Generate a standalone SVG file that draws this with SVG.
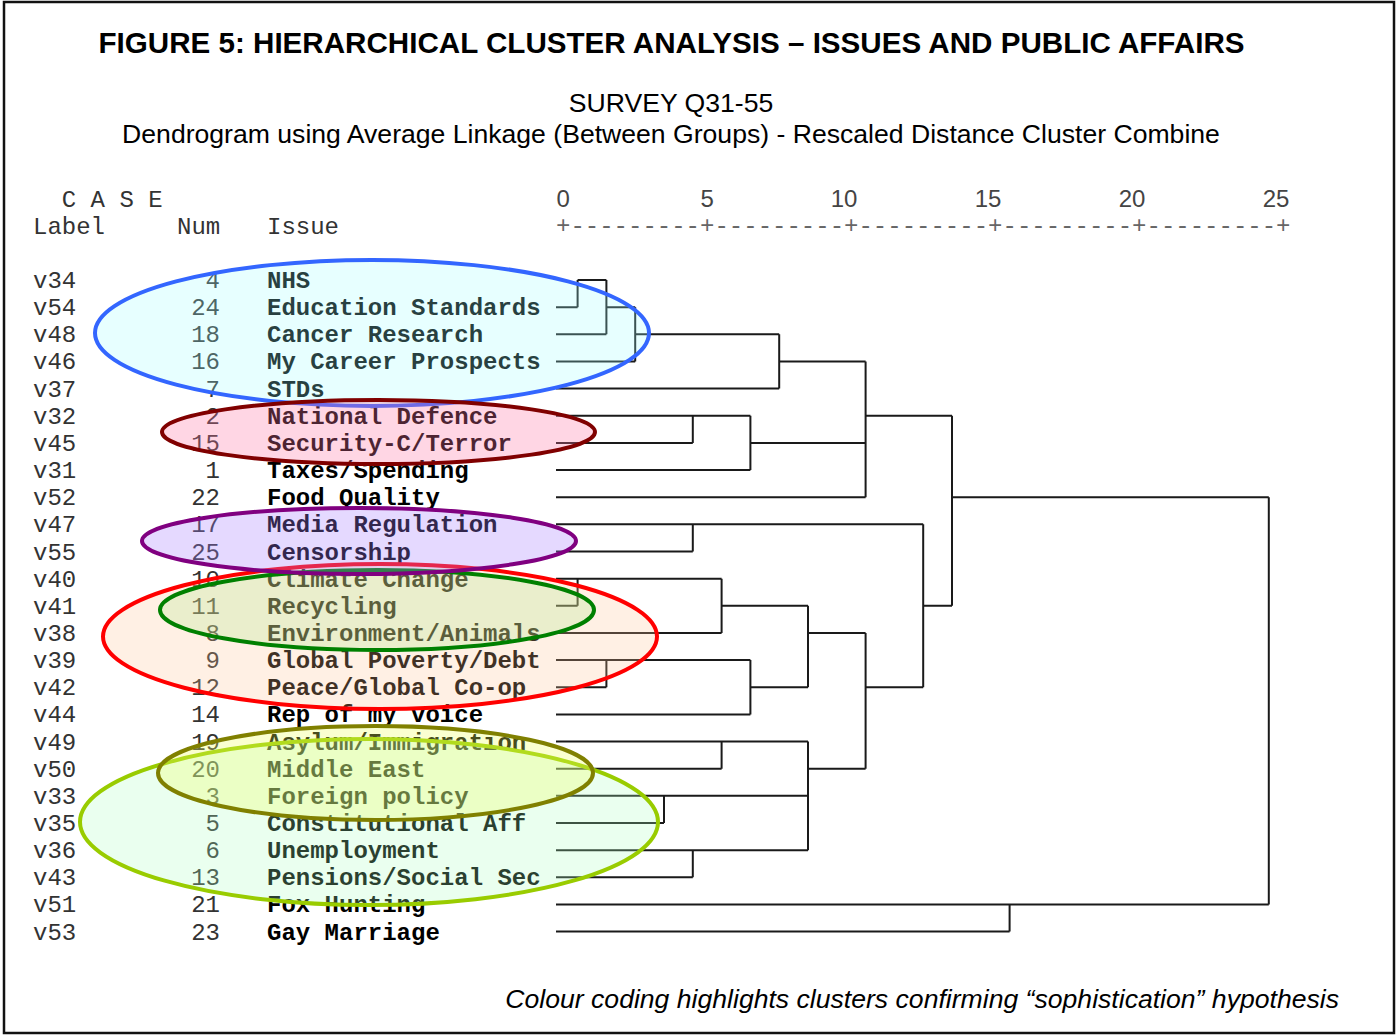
<svg xmlns="http://www.w3.org/2000/svg" width="1397" height="1035" viewBox="0 0 1397 1035">
<style>
.t{font-family:"Liberation Sans",Arial,sans-serif;fill:#000}
.title{font-size:29.6px;font-weight:bold;text-anchor:middle}
.sub{font-size:26.6px;text-anchor:middle}
.foot{font-size:26.6px;font-style:italic;text-anchor:end}
.m{font-family:"Liberation Mono","Courier New",monospace;font-size:24px}
.lab{fill:#333}
.num{fill:#333;text-anchor:end}
.iss{fill:#000;font-weight:bold}
.ax{font-family:"Liberation Sans",Arial,sans-serif;font-size:24px;fill:#444;text-anchor:middle}
.tick{fill:#666}
.dend{fill:none;stroke:#1a1a1a;stroke-width:2}
.ell{stroke-width:4}
</style>
<rect x="0" y="0" width="1397" height="1035" fill="#fff"/>
<rect x="4" y="2" width="1390" height="1031" fill="none" stroke="#111" stroke-width="2.5"/>
<text class="t title" x="671.5" y="53">FIGURE 5: HIERARCHICAL CLUSTER ANALYSIS – ISSUES AND PUBLIC AFFAIRS</text>
<text class="t sub" x="671" y="112">SURVEY Q31-55</text>
<text class="t sub" x="671" y="143">Dendrogram using Average Linkage (Between Groups) - Rescaled Distance Cluster Combine</text>
<g id="header">
<text class="m lab" x="61.8" y="207">C A S E</text>
<text class="m lab" x="33" y="234">Label</text>
<text class="m lab" x="177" y="234">Num</text>
<text class="m lab" x="267" y="234">Issue</text>
<text class="ax" x="563.2" y="207">0</text>
<text class="ax" x="707.2" y="207">5</text>
<text class="ax" x="844" y="207">10</text>
<text class="ax" x="988" y="207">15</text>
<text class="ax" x="1132" y="207">20</text>
<text class="ax" x="1276" y="207">25</text>
<text class="m tick" x="556" y="233">+---------+---------+---------+---------+---------+</text>
</g>
<g id="connectors" class="dend">
<path d="M577.6 280H606.4 M556 307.15H577.6 M606.4 307.15H635.2 M556 334.3H606.4 M635.2 334.3H779.2 M556 361.45H635.2 M779.2 361.45H865.6 M556 388.6H779.2 M556 415.75H750.4 M865.6 415.75H952 M556 442.9H692.8 M750.4 442.9H865.6 M556 470.05H750.4 M556 497.2H865.6 M952 497.2H1268.8 M556 524.35H923.2 M556 551.5H692.8 M556 578.65H721.6 M556 605.8H577.6 M721.6 605.8H808 M923.2 605.8H952 M556 632.95H721.6 M808 632.95H865.6 M556 660.1H750.4 M556 687.25H606.4 M750.4 687.25H808 M865.6 687.25H923.2 M556 714.4H750.4 M556 741.55H808 M556 768.7H721.6 M808 768.7H865.6 M556 795.85H808 M556 823H664 M556 850.15H808 M556 877.3H692.8 M556 904.45H1268.8 M556 931.6H1009.6"/>
<path d="M577.6 280V307.15 M606.4 280V334.3 M635.2 307.15V361.45 M779.2 334.3V388.6 M865.6 361.45V497.2 M692.8 415.75V442.9 M750.4 415.75V470.05 M952 415.75V605.8 M692.8 524.35V551.5 M923.2 524.35V687.25 M577.6 578.65V605.8 M721.6 578.65V632.95 M808 605.8V687.25 M606.4 660.1V687.25 M750.4 660.1V714.4 M865.6 632.95V768.7 M721.6 741.55V768.7 M664 795.85V823 M692.8 850.15V877.3 M808 741.55V850.15 M1268.8 497.2V904.45 M1009.6 904.45V931.6"/>
</g>
<g id="n-v34"><text class="m lab" x="33" y="288">v34</text><text class="m num" x="220" y="288">4</text><text class="m iss" x="267" y="288">NHS</text></g>
<g id="n-v54"><text class="m lab" x="33" y="315.15">v54</text><text class="m num" x="220" y="315.15">24</text><text class="m iss" x="267" y="315.15">Education Standards</text></g>
<g id="n-v48"><text class="m lab" x="33" y="342.3">v48</text><text class="m num" x="220" y="342.3">18</text><text class="m iss" x="267" y="342.3">Cancer Research</text></g>
<g id="n-v46"><text class="m lab" x="33" y="369.45">v46</text><text class="m num" x="220" y="369.45">16</text><text class="m iss" x="267" y="369.45">My Career Prospects</text></g>
<g id="n-v37"><text class="m lab" x="33" y="396.6">v37</text><text class="m num" x="220" y="396.6">7</text><text class="m iss" x="267" y="396.6">STDs</text></g>
<g id="n-v32"><text class="m lab" x="33" y="423.75">v32</text><text class="m num" x="220" y="423.75">2</text><text class="m iss" x="267" y="423.75">National Defence</text></g>
<g id="n-v45"><text class="m lab" x="33" y="450.9">v45</text><text class="m num" x="220" y="450.9">15</text><text class="m iss" x="267" y="450.9">Security-C/Terror</text></g>
<g id="n-v31"><text class="m lab" x="33" y="478.05">v31</text><text class="m num" x="220" y="478.05">1</text><text class="m iss" x="267" y="478.05">Taxes/Spending</text></g>
<g id="n-v52"><text class="m lab" x="33" y="505.2">v52</text><text class="m num" x="220" y="505.2">22</text><text class="m iss" x="267" y="505.2">Food Quality</text></g>
<g id="n-v47"><text class="m lab" x="33" y="532.35">v47</text><text class="m num" x="220" y="532.35">17</text><text class="m iss" x="267" y="532.35">Media Regulation</text></g>
<g id="n-v55"><text class="m lab" x="33" y="559.5">v55</text><text class="m num" x="220" y="559.5">25</text><text class="m iss" x="267" y="559.5">Censorship</text></g>
<g id="n-v40"><text class="m lab" x="33" y="586.65">v40</text><text class="m num" x="220" y="586.65">10</text><text class="m iss" x="267" y="586.65">Climate Change</text></g>
<g id="n-v41"><text class="m lab" x="33" y="613.8">v41</text><text class="m num" x="220" y="613.8">11</text><text class="m iss" x="267" y="613.8">Recycling</text></g>
<g id="n-v38"><text class="m lab" x="33" y="640.95">v38</text><text class="m num" x="220" y="640.95">8</text><text class="m iss" x="267" y="640.95">Environment/Animals</text></g>
<g id="n-v39"><text class="m lab" x="33" y="668.1">v39</text><text class="m num" x="220" y="668.1">9</text><text class="m iss" x="267" y="668.1">Global Poverty/Debt</text></g>
<g id="n-v42"><text class="m lab" x="33" y="695.25">v42</text><text class="m num" x="220" y="695.25">12</text><text class="m iss" x="267" y="695.25">Peace/Global Co-op</text></g>
<g id="n-v44"><text class="m lab" x="33" y="722.4">v44</text><text class="m num" x="220" y="722.4">14</text><text class="m iss" x="267" y="722.4">Rep of my voice</text></g>
<g id="n-v49"><text class="m lab" x="33" y="749.55">v49</text><text class="m num" x="220" y="749.55">19</text><text class="m iss" x="267" y="749.55">Asylum/Immigration</text></g>
<g id="n-v50"><text class="m lab" x="33" y="776.7">v50</text><text class="m num" x="220" y="776.7">20</text><text class="m iss" x="267" y="776.7">Middle East</text></g>
<g id="n-v33"><text class="m lab" x="33" y="803.85">v33</text><text class="m num" x="220" y="803.85">3</text><text class="m iss" x="267" y="803.85">Foreign policy</text></g>
<g id="n-v35"><text class="m lab" x="33" y="831">v35</text><text class="m num" x="220" y="831">5</text><text class="m iss" x="267" y="831">Constitutional Aff</text></g>
<g id="n-v36"><text class="m lab" x="33" y="858.15">v36</text><text class="m num" x="220" y="858.15">6</text><text class="m iss" x="267" y="858.15">Unemployment</text></g>
<g id="n-v43"><text class="m lab" x="33" y="885.3">v43</text><text class="m num" x="220" y="885.3">13</text><text class="m iss" x="267" y="885.3">Pensions/Social Sec</text></g>
<g id="n-v51"><text class="m lab" x="33" y="912.45">v51</text><text class="m num" x="220" y="912.45">21</text><text class="m iss" x="267" y="912.45">Fox Hunting</text></g>
<g id="n-v53"><text class="m lab" x="33" y="939.6">v53</text><text class="m num" x="220" y="939.6">23</text><text class="m iss" x="267" y="939.6">Gay Marriage</text></g>
<g id="clusters">
<g id="c-blue"><ellipse cx="372" cy="333" rx="277" ry="73" fill="#a0ffff" fill-opacity="0.25"/><ellipse class="ell" cx="372" cy="333" rx="277" ry="73" fill="none" stroke="#3366ff"/></g>
<g id="c-maroon"><ellipse cx="378.5" cy="432" rx="216.5" ry="32" fill="#ff76a5" fill-opacity="0.3"/><ellipse class="ell" cx="378.5" cy="432" rx="216.5" ry="32" fill="none" stroke="#800000"/></g>
<g id="c-red"><ellipse cx="380" cy="636.5" rx="277" ry="72.5" fill="#ffc393" fill-opacity="0.25"/><ellipse class="ell" cx="380" cy="636.5" rx="277" ry="72.5" fill="none" stroke="#ff0000"/></g>
<g id="c-green"><ellipse cx="377" cy="610" rx="217" ry="40" fill="#aae682" fill-opacity="0.25"/><ellipse class="ell" cx="377" cy="610" rx="217" ry="40" fill="none" stroke="#008000"/></g>
<g id="c-purple"><ellipse cx="359" cy="541" rx="217" ry="33" fill="#a880ff" fill-opacity="0.3"/><ellipse class="ell" cx="359" cy="541" rx="217" ry="33" fill="none" stroke="#800080"/></g>
<g id="c-lime"><ellipse cx="369" cy="822" rx="289" ry="83" fill="#aaffbe" fill-opacity="0.25"/><ellipse class="ell" cx="369" cy="822" rx="289" ry="83" fill="none" stroke="#99cc00"/></g>
<g id="c-olive"><ellipse cx="375.5" cy="773" rx="217.5" ry="47" fill="#f0ff64" fill-opacity="0.3"/><ellipse class="ell" cx="375.5" cy="773" rx="217.5" ry="47" fill="none" stroke="#808000"/></g>
</g>
<text class="t foot" x="1339" y="1008">Colour coding highlights clusters confirming “sophistication” hypothesis</text>
</svg>
